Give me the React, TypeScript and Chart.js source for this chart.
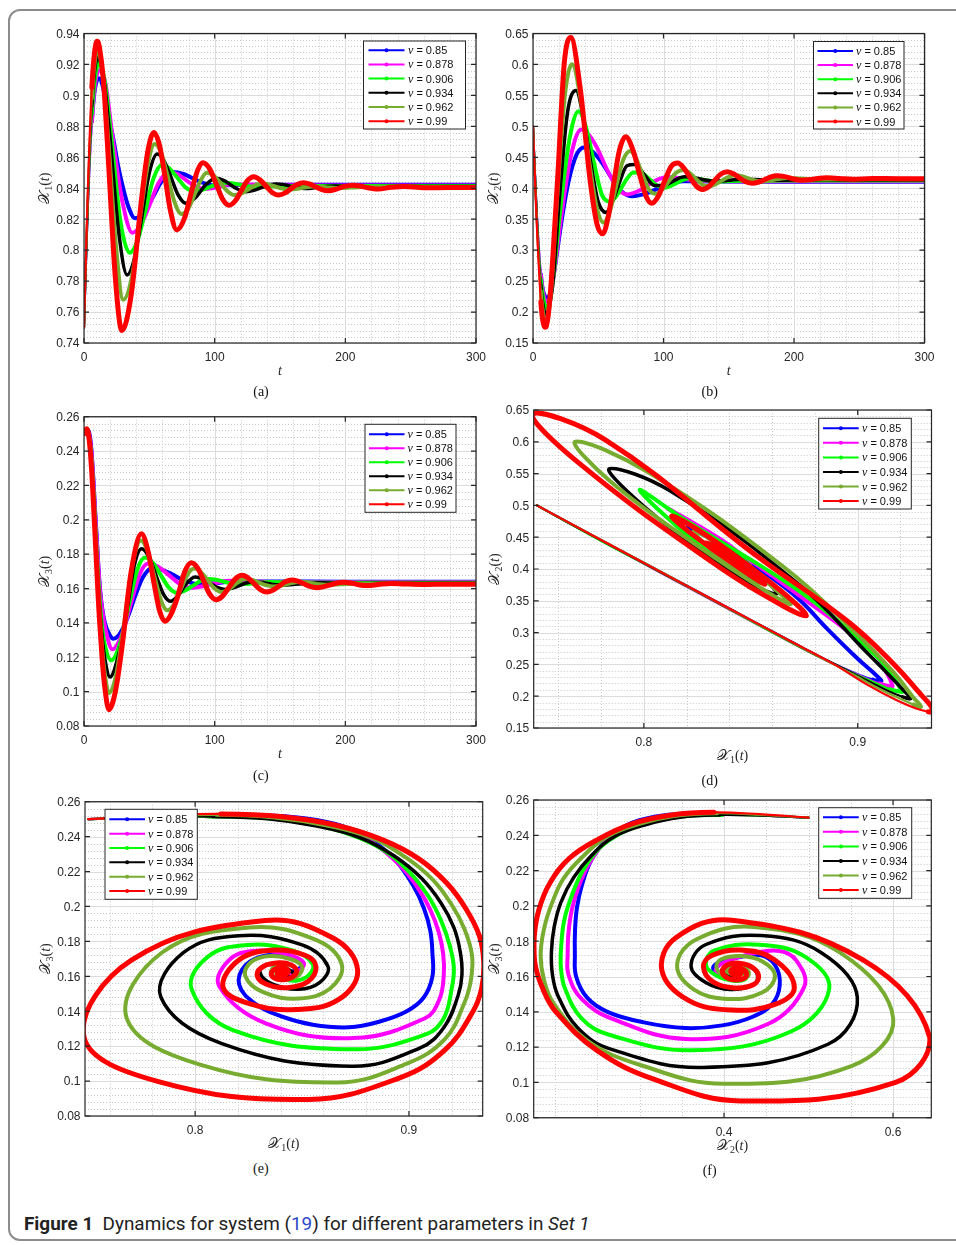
import React, { useEffect, useRef } from 'react';
import { Chart, registerables } from 'chart.js';
Chart.register(...registerables);

// ---------------- series labels / colours ----------------
const NU = ['0.85', '0.878', '0.906', '0.934', '0.962', '0.99'];
const COLORS = ['#0000ff', '#ff00ff', '#00ff00', '#000000', '#77ac30', '#ff0000'];
const WIDTHS = [4, 4, 4, 3.5, 4, 5];

// ---------------- nu = 0.85 (blue) ----------------
const T_B = [0, 1, 2, 3, 4, 5, 6, 7, 8, 9, 10, 11, 12.2, 14, 16, 19, 22.4, 26, 30, 34, 39, 45, 52, 60, 68, 76, 88, 100, 115, 140, 200, 300];
const X1_B = [0.750, 0.778, 0.805, 0.830, 0.851, 0.869, 0.883, 0.894, 0.902, 0.907, 0.910, 0.911, 0.911, 0.907, 0.899, 0.886, 0.872, 0.855, 0.840, 0.828, 0.8206, 0.8236, 0.8332, 0.8451, 0.8505, 0.8492, 0.8445, 0.8418, 0.8421, 0.8422, 0.8422, 0.8422];
const X2_B = [0.500, 0.449, 0.401, 0.356, 0.318, 0.286, 0.261, 0.243, 0.232, 0.226, 0.2237, 0.2235, 0.225, 0.238, 0.262, 0.305, 0.354, 0.398, 0.434, 0.457, 0.466, 0.4605, 0.4439, 0.4174, 0.3949, 0.387, 0.3924, 0.4037, 0.4115, 0.4108, 0.4106, 0.4106];
const X3_B = [0.250, 0.2512, 0.252, 0.2522, 0.2505, 0.246, 0.2375, 0.226, 0.212, 0.199, 0.186, 0.173, 0.160, 0.148, 0.140, 0.134, 0.1308, 0.1323, 0.1372, 0.1444, 0.1553, 0.1664, 0.172, 0.1709, 0.1681, 0.1649, 0.1625, 0.1631, 0.1641, 0.1641, 0.164, 0.164];

// ---------------- nu = 0.878 (magenta) ----------------
const T_M = [0, 1, 2, 3, 4, 5, 6, 7, 8, 9, 10, 11, 12, 14, 16.5, 21.7, 29, 37, 43, 49, 57, 65, 72, 82, 92, 103, 112, 125, 150, 200, 300];
const X1_M = [0.750, 0.779, 0.805, 0.829, 0.850, 0.868, 0.883, 0.895, 0.904, 0.910, 0.914, 0.916, 0.9163, 0.9143, 0.9075, 0.874, 0.833, 0.8113, 0.8156, 0.8267, 0.8432, 0.8507, 0.8489, 0.8429, 0.8395, 0.8408, 0.8424, 0.8424, 0.8419, 0.8418, 0.8418];
const X2_M = [0.500, 0.447, 0.399, 0.356, 0.318, 0.286, 0.260, 0.241, 0.228, 0.220, 0.216, 0.215, 0.216, 0.232, 0.268, 0.355, 0.452, 0.495, 0.4857, 0.4657, 0.4289, 0.3995, 0.390, 0.3967, 0.4102, 0.418, 0.4165, 0.4125, 0.4115, 0.4115, 0.4115];
const X3_M = [0.250, 0.2511, 0.2516, 0.2515, 0.2495, 0.2445, 0.2365, 0.2245, 0.211, 0.198, 0.185, 0.173, 0.161, 0.147, 0.136, 0.1246, 0.1331, 0.1543, 0.169, 0.1745, 0.1725, 0.1678, 0.1634, 0.1605, 0.1615, 0.1637, 0.1645, 0.1641, 0.1637, 0.1637, 0.1637];

// ---------------- nu = 0.906 (green) ----------------
const T_G = [0, 1, 2, 3, 4, 5, 6, 7, 8, 9, 10, 11, 12, 14, 16, 20.7, 28, 35, 41, 46.7, 53, 59.5, 65, 71, 77, 84, 90, 95, 101, 108, 114, 120, 127, 133, 143, 160, 200, 300];
const X1_G = [0.750, 0.779, 0.806, 0.831, 0.853, 0.872, 0.888, 0.900, 0.909, 0.915, 0.919, 0.921, 0.920, 0.9163, 0.9084, 0.874, 0.818, 0.7983, 0.8062, 0.8247, 0.8459, 0.855, 0.853, 0.8473, 0.8412, 0.838, 0.8388, 0.8404, 0.8424, 0.8435, 0.8431, 0.8422, 0.8411, 0.8408, 0.8412, 0.8414, 0.8414, 0.8414];
const X2_G = [0.500, 0.446, 0.398, 0.353, 0.313, 0.279, 0.252, 0.233, 0.220, 0.211, 0.2075, 0.207, 0.212, 0.232, 0.264, 0.362, 0.480, 0.5245, 0.4952, 0.4411, 0.3884, 0.3785, 0.3909, 0.4124, 0.4256, 0.4236, 0.4132, 0.4046, 0.401, 0.4062, 0.4129, 0.416, 0.4148, 0.4128, 0.411, 0.4122, 0.4125, 0.4125];
const X3_G = [0.250, 0.2511, 0.2515, 0.2508, 0.2475, 0.2415, 0.2325, 0.220, 0.206, 0.192, 0.178, 0.165, 0.153, 0.136, 0.127, 0.1182, 0.129, 0.1529, 0.1714, 0.178, 0.1747, 0.1669, 0.1605, 0.1575, 0.1587, 0.162, 0.1647, 0.1655, 0.1651, 0.1638, 0.1628, 0.1625, 0.1628, 0.1633, 0.1638, 0.1635, 0.1634, 0.1634];

// ---------------- nu = 0.934 (black) ----------------
const T_K = [0, 1, 2, 3, 4, 5, 6, 7, 8, 9, 10, 11, 12, 14, 16, 19.9, 26.5, 33, 38.5, 44, 50, 56, 61, 66, 72, 78, 85, 93, 101, 108, 116, 124, 130, 138, 147, 152, 160, 170, 180, 192, 210, 240, 300];
const X1_K = [0.750, 0.780, 0.808, 0.834, 0.857, 0.877, 0.893, 0.906, 0.915, 0.921, 0.924, 0.9248, 0.923, 0.9165, 0.9053, 0.8728, 0.8122, 0.784, 0.7945, 0.8203, 0.850, 0.8621, 0.8582, 0.8484, 0.8357, 0.8303, 0.8337, 0.8421, 0.8464, 0.8446, 0.8401, 0.8378, 0.8386, 0.8411, 0.8428, 0.8425, 0.841, 0.8398, 0.8408, 0.8415, 0.841, 0.8411, 0.8411];
const X2_K = [0.500, 0.445, 0.395, 0.348, 0.307, 0.271, 0.244, 0.222, 0.207, 0.199, 0.1958, 0.197, 0.2036, 0.2267, 0.2651, 0.375, 0.523, 0.5578, 0.5152, 0.4443, 0.378, 0.361, 0.3789, 0.408, 0.4363, 0.4384, 0.4228, 0.4044, 0.4047, 0.4124, 0.4186, 0.4171, 0.4142, 0.4115, 0.412, 0.4133, 0.4147, 0.4142, 0.413, 0.4131, 0.4137, 0.4135, 0.4135];
const X3_K = [0.250, 0.2512, 0.2515, 0.2502, 0.246, 0.2395, 0.229, 0.216, 0.202, 0.188, 0.174, 0.161, 0.149, 0.131, 0.119, 0.1085, 0.1216, 0.148, 0.1735, 0.1832, 0.178, 0.1658, 0.1564, 0.1526, 0.1558, 0.1625, 0.1667, 0.1648, 0.161, 0.1595, 0.1608, 0.1632, 0.164, 0.1634, 0.1622, 0.162, 0.1624, 0.163, 0.1633, 0.1631, 0.163, 0.1631, 0.1631];

// ---------------- nu = 0.962 (olive) ----------------
const T_O = [0, 1, 2, 3, 4, 5, 6, 7, 8, 9, 10, 11, 12, 14, 16, 19, 24.5, 30, 37, 43.6, 49, 54, 59, 63.8, 69, 74.5, 79.5, 84.2, 89, 94, 99.5, 105.3, 110, 115, 120, 124, 130, 135, 140, 145, 150, 156, 160, 165, 170, 176, 185, 196, 210, 230, 260, 300];
const X1_O = [0.750, 0.781, 0.810, 0.837, 0.861, 0.882, 0.898, 0.911, 0.920, 0.926, 0.9295, 0.929, 0.926, 0.9168, 0.899, 0.8666, 0.8023, 0.768, 0.7844, 0.8253, 0.856, 0.8686, 0.863, 0.8487, 0.8318, 0.8234, 0.8264, 0.8351, 0.8446, 0.850, 0.8481, 0.8425, 0.8379, 0.8356, 0.8365, 0.8383, 0.8415, 0.843, 0.8427, 0.8415, 0.8402, 0.8392, 0.8393, 0.8399, 0.8407, 0.8412, 0.8407, 0.8401, 0.8407, 0.8409, 0.8408, 0.8408];
const X2_O = [0.500, 0.444, 0.392, 0.343, 0.300, 0.262, 0.234, 0.210, 0.196, 0.187, 0.183, 0.187, 0.198, 0.2374, 0.300, 0.400, 0.5515, 0.6003, 0.5375, 0.4358, 0.3676, 0.3445, 0.3636, 0.4035, 0.4452, 0.4603, 0.446, 0.4201, 0.3974, 0.391, 0.3992, 0.4146, 0.4256, 0.4295, 0.4247, 0.4169, 0.4057, 0.403, 0.4064, 0.4127, 0.4185, 0.421, 0.4195, 0.416, 0.4125, 0.411, 0.4138, 0.4165, 0.4148, 0.4144, 0.4145, 0.4145];
const X3_O = [0.250, 0.2515, 0.2525, 0.251, 0.2465, 0.2395, 0.2285, 0.2155, 0.201, 0.187, 0.172, 0.158, 0.145, 0.124, 0.110, 0.0992, 0.1094, 0.136, 0.1735, 0.188, 0.1811, 0.1667, 0.1529, 0.1473, 0.1509, 0.1603, 0.1684, 0.1716, 0.1699, 0.1656, 0.1603, 0.158, 0.1591, 0.162, 0.1648, 0.1655, 0.1647, 0.1632, 0.1618, 0.1612, 0.1616, 0.1627, 0.1634, 0.1638, 0.1636, 0.1629, 0.1622, 0.1625, 0.1629, 0.1628, 0.1628, 0.1628];

// ---------------- nu = 0.99 (red) ----------------
const T_R = [0, 1, 2, 3, 4, 5, 6, 7, 8, 9, 10, 11, 12, 14, 16, 19, 24, 29, 36, 44, 49, 53.5, 58, 62, 66, 71, 77, 82, 87, 91, 96, 101, 106, 111, 116, 121, 125, 130, 135, 140, 144, 149, 154, 159, 163, 168, 173, 178, 182, 187, 193, 198.5, 205.5, 211, 217, 225, 235, 245, 260, 280, 300];
const X1_R = [0.750, 0.782, 0.812, 0.840, 0.866, 0.888, 0.905, 0.918, 0.927, 0.933, 0.935, 0.934, 0.930, 0.917, 0.896, 0.853, 0.782, 0.748, 0.7704, 0.8327, 0.8647, 0.876, 0.867, 0.8473, 0.8262, 0.8131, 0.8208, 0.837, 0.8517, 0.8565, 0.8528, 0.8431, 0.8331, 0.829, 0.8321, 0.8394, 0.8449, 0.8475, 0.8452, 0.8407, 0.8373, 0.8356, 0.837, 0.8401, 0.8424, 0.8436, 0.8426, 0.8406, 0.8391, 0.8384, 0.8394, 0.841, 0.842, 0.8415, 0.8403, 0.8395, 0.8406, 0.8412, 0.8403, 0.8405, 0.8405];
const X2_R = [0.500, 0.442, 0.388, 0.338, 0.291, 0.252, 0.217, 0.194, 0.181, 0.1755, 0.176, 0.1856, 0.201, 0.250, 0.316, 0.420, 0.603, 0.6435, 0.5644, 0.409, 0.3426, 0.3265, 0.3575, 0.4094, 0.4594, 0.4832, 0.4592, 0.4196, 0.3855, 0.3757, 0.3869, 0.4126, 0.4357, 0.4407, 0.4313, 0.4153, 0.4039, 0.398, 0.4032, 0.4146, 0.4231, 0.4267, 0.423, 0.4157, 0.4104, 0.408, 0.4101, 0.4145, 0.418, 0.4203, 0.4188, 0.4156, 0.413, 0.4136, 0.4155, 0.417, 0.4158, 0.4145, 0.4158, 0.4155, 0.4155];
const X3_R = [0.250, 0.252, 0.253, 0.2515, 0.2465, 0.238, 0.227, 0.213, 0.198, 0.183, 0.168, 0.153, 0.140, 0.118, 0.102, 0.0895, 0.100, 0.1254, 0.1694, 0.1919, 0.1818, 0.1634, 0.1466, 0.141, 0.1441, 0.1537, 0.1696, 0.175, 0.1719, 0.1655, 0.157, 0.1535, 0.1556, 0.1608, 0.1658, 0.1677, 0.1665, 0.163, 0.1594, 0.158, 0.1588, 0.1613, 0.1639, 0.165, 0.1645, 0.1629, 0.1612, 0.1605, 0.1608, 0.1618, 0.1631, 0.1636, 0.163, 0.1621, 0.1617, 0.1623, 0.163, 0.1627, 0.1624, 0.1625, 0.1625];

// ---------------- tick values ----------------
const T_TICKS = [0, 100, 200, 300];
const X1_TICKS_TIME = [0.74, 0.76, 0.78, 0.8, 0.82, 0.84, 0.86, 0.88, 0.9, 0.92, 0.94];
const X2_TICKS = [0.15, 0.2, 0.25, 0.3, 0.35, 0.4, 0.45, 0.5, 0.55, 0.6, 0.65];
const X3_TICKS = [0.08, 0.1, 0.12, 0.14, 0.16, 0.18, 0.2, 0.22, 0.24, 0.26];
const X1_TICKS_PHASE = [0.8, 0.9];
const X2_TICKS_PHASE = [0.4, 0.6];

type Series = { t: number[]; x1: number[]; x2: number[]; x3: number[] };
const SERIES: Series[] = [
  { t: T_B, x1: X1_B, x2: X2_B, x3: X3_B },
  { t: T_M, x1: X1_M, x2: X2_M, x3: X3_M },
  { t: T_G, x1: X1_G, x2: X2_G, x3: X3_G },
  { t: T_K, x1: X1_K, x2: X2_K, x3: X3_K },
  { t: T_O, x1: X1_O, x2: X2_O, x3: X3_O },
  { t: T_R, x1: X1_R, x2: X2_R, x3: X3_R },
];

const SANS = '"Liberation Sans", Arial, Helvetica, sans-serif';
const SERIF = '"Liberation Serif", "DejaVu Serif", serif';
const AX = '#262626';
const MAJOR = '#dcdcdc';
const MINOR = '#c8c8c8';

type Legend = { x: number; y: number; w: number; h: number; l0: number; l1: number; tx: number; r0: number; rs: number };
type Panel = {
  id: string; L: number; T: number; R: number; B: number;
  xv: keyof Series; yv: keyof Series;
  xr: [number, number]; yr: [number, number];
  xt: number[]; yt: number[]; xm: number; ym: number;
  xTitle: number; yTitle: number;
  legend: Legend; cap: { text: string; x: number; y: number };
  thin: number; phase: boolean;
};

const PANELS: Panel[] = [
  { id: 'a', L: 84, T: 33.5, R: 476, B: 343, xv: 't', yv: 'x1', xr: [0, 300], yr: [0.74, 0.94], xt: T_TICKS, yt: X1_TICKS_TIME, xm: 20, ym: 0.004, xTitle: 0, yTitle: 1,
    legend: { x: 363.5, y: 41, w: 102, h: 88, l0: 368.5, l1: 404.5, tx: 408, r0: 50.2, rs: 14.2 }, cap: { text: '(a)', x: 261, y: 397 }, thin: 6, phase: false },
  { id: 'b', L: 533, T: 33.5, R: 924.5, B: 343, xv: 't', yv: 'x2', xr: [0, 300], yr: [0.15, 0.65], xt: T_TICKS, yt: X2_TICKS, xm: 20, ym: 0.01, xTitle: 0, yTitle: 2,
    legend: { x: 813.5, y: 41.5, w: 90.5, h: 87.5, l0: 817.5, l1: 853, tx: 856, r0: 51, rs: 14.1 }, cap: { text: '(b)', x: 709.7, y: 397 }, thin: 6, phase: false },
  { id: 'c', L: 84, T: 416.7, R: 476, B: 726, xv: 't', yv: 'x3', xr: [0, 300], yr: [0.08, 0.26], xt: T_TICKS, yt: X3_TICKS, xm: 20, ym: 0.004, xTitle: 0, yTitle: 3,
    legend: { x: 365, y: 424.3, w: 91, h: 88, l0: 369, l1: 404.5, tx: 407.5, r0: 434.3, rs: 14 }, cap: { text: '(c)', x: 260.8, y: 781 }, thin: 0, phase: false },
  { id: 'd', L: 533.7, T: 410, R: 931.5, B: 728, xv: 'x1', yv: 'x2', xr: [0.7485, 0.9345], yr: [0.15, 0.65], xt: X1_TICKS_PHASE, yt: X2_TICKS, xm: 0.02, ym: 0.01, xTitle: 1, yTitle: 2,
    legend: { x: 818.7, y: 418.3, w: 92.6, h: 90.7, l0: 823, l1: 858.7, tx: 862, r0: 428.3, rs: 14.55 }, cap: { text: '(d)', x: 709.7, y: 786 }, thin: 9, phase: true },
  { id: 'e', L: 85, T: 801.7, R: 482.7, B: 1116, xv: 'x1', yv: 'x3', xr: [0.7485, 0.9345], yr: [0.08, 0.26], xt: X1_TICKS_PHASE, yt: X3_TICKS, xm: 0.02, ym: 0.004, xTitle: 1, yTitle: 3,
    legend: { x: 105, y: 809.3, w: 92.3, h: 90, l0: 109.3, l1: 145, tx: 148, r0: 819.3, rs: 14.35 }, cap: { text: '(e)', x: 260.8, y: 1174 }, thin: 2, phase: true },
  { id: 'f', L: 533.7, T: 800, R: 931.3, B: 1117.7, xv: 'x2', yv: 'x3', xr: [0.1748, 0.6453], yr: [0.08, 0.26], xt: X2_TICKS_PHASE, yt: X3_TICKS, xm: 0.05, ym: 0.004, xTitle: 2, yTitle: 3,
    legend: { x: 818.7, y: 807.7, w: 93, h: 90.6, l0: 823, l1: 858.7, tx: 862, r0: 817.3, rs: 14.55 }, cap: { text: '(f)', x: 709.7, y: 1176 }, thin: 1.5, phase: true },
];

type Run = { text: string; font: string; dy?: number };
function fmt(v: number) { return String(+v.toFixed(3)); }
function runsWidth(ctx: CanvasRenderingContext2D, runs: Run[]) {
  let w = 0;
  for (const r of runs) { ctx.font = r.font; w += ctx.measureText(r.text).width; }
  return w;
}
function drawRuns(ctx: CanvasRenderingContext2D, runs: Run[], x: number, y: number) {
  let cx = x;
  for (const r of runs) { ctx.font = r.font; ctx.fillText(r.text, cx, y + (r.dy || 0)); cx += ctx.measureText(r.text).width; }
}
function titleRuns(n: number): Run[] {
  if (n === 0) return [{ text: 't', font: `italic 14px ${SERIF}` }];
  return [
    { text: '\u{1D4B3}', font: `15px "DejaVu Serif", "DejaVu Sans", serif` },
    { text: String(n), font: `10px ${SERIF}`, dy: 3 },
    { text: '(', font: `14px ${SERIF}` },
    { text: 't', font: `italic 14px ${SERIF}` },
    { text: ')', font: `14px ${SERIF}` },
  ];
}
function minorVals(r: [number, number], step: number, majors: number[]) {
  const out: number[] = [];
  let k = Math.ceil(r[0] / step - 1e-9);
  for (;;) {
    const v = k * step;
    if (v > r[1] + 1e-9) break;
    if (!majors.some((m) => Math.abs(m - v) < step * 0.05)) out.push(v);
    k++;
  }
  return out;
}

function makePlugin(p: Panel, cl: number, ct: number) {
  return {
    id: 'matlab_' + p.id,
    beforeDatasetsDraw(chart: any) {
      const { ctx, chartArea: a } = chart;
      const xs = chart.scales.x, ys = chart.scales.y;
      ctx.save();
      ctx.fillStyle = '#fff';
      ctx.fillRect(a.left, a.top, a.right - a.left, a.bottom - a.top);
      ctx.lineWidth = 1;
      ctx.strokeStyle = MINOR;
      ctx.setLineDash([1, 2]);
      ctx.beginPath();
      for (const v of minorVals(p.xr, p.xm, p.xt)) { const px = Math.round(xs.getPixelForValue(v)) + 0.5; ctx.moveTo(px, a.top); ctx.lineTo(px, a.bottom); }
      for (const v of minorVals(p.yr, p.ym, p.yt)) { const py = Math.round(ys.getPixelForValue(v)) + 0.5; ctx.moveTo(a.left, py); ctx.lineTo(a.right, py); }
      ctx.stroke();
      ctx.setLineDash([]);
      ctx.strokeStyle = MAJOR;
      ctx.beginPath();
      for (const v of p.xt) { const px = Math.round(xs.getPixelForValue(v)) + 0.5; ctx.moveTo(px, a.top); ctx.lineTo(px, a.bottom); }
      for (const v of p.yt) { const py = Math.round(ys.getPixelForValue(v)) + 0.5; ctx.moveTo(a.left, py); ctx.lineTo(a.right, py); }
      ctx.stroke();
      ctx.restore();
    },
    afterDatasetsDraw(chart: any) {
      const { ctx, chartArea: a } = chart;
      const xs = chart.scales.x, ys = chart.scales.y;
      ctx.save();
      ctx.strokeStyle = AX;
      ctx.lineWidth = 1.2;
      ctx.strokeRect(a.left, a.top, a.right - a.left, a.bottom - a.top);
      ctx.beginPath();
      for (const v of p.xt) {
        const px = xs.getPixelForValue(v);
        ctx.moveTo(px, a.bottom); ctx.lineTo(px, a.bottom - 5);
        ctx.moveTo(px, a.top); ctx.lineTo(px, a.top + 5);
      }
      for (const v of p.yt) {
        const py = ys.getPixelForValue(v);
        ctx.moveTo(a.left, py); ctx.lineTo(a.left + 5, py);
        ctx.moveTo(a.right, py); ctx.lineTo(a.right - 5, py);
      }
      ctx.stroke();
      ctx.fillStyle = AX;
      ctx.font = `12px ${SANS}`;
      ctx.textBaseline = 'alphabetic';
      ctx.textAlign = 'center';
      for (const v of p.xt) ctx.fillText(fmt(v), xs.getPixelForValue(v), a.bottom + 18);
      ctx.textAlign = 'right';
      for (const v of p.yt) ctx.fillText(fmt(v), a.left - 4.5, ys.getPixelForValue(v) + 4.3);
      ctx.textAlign = 'left';
      const xr = titleRuns(p.xTitle);
      drawRuns(ctx, xr, (a.left + a.right) / 2 - runsWidth(ctx, xr) / 2, a.bottom + 32);
      const yr = titleRuns(p.yTitle);
      ctx.save();
      ctx.translate(a.left - 35, (a.top + a.bottom) / 2);
      ctx.rotate(-Math.PI / 2);
      drawRuns(ctx, yr, -runsWidth(ctx, yr) / 2, 0);
      ctx.restore();
      const lg = p.legend;
      ctx.translate(-cl, -ct);
      ctx.fillStyle = '#fff';
      ctx.fillRect(lg.x, lg.y, lg.w, lg.h);
      ctx.strokeStyle = AX;
      ctx.lineWidth = 1;
      ctx.strokeRect(lg.x, lg.y, lg.w, lg.h);
      for (let i = 0; i < NU.length; i++) {
        const y = lg.r0 + i * lg.rs;
        ctx.strokeStyle = COLORS[i];
        ctx.lineWidth = 2;
        ctx.beginPath(); ctx.moveTo(lg.l0, y); ctx.lineTo(lg.l1, y); ctx.stroke();
        ctx.fillStyle = COLORS[i];
        ctx.beginPath(); ctx.arc((lg.l0 + lg.l1) / 2, y, 2, 0, Math.PI * 2); ctx.fill();
        ctx.fillStyle = '#111';
        drawRuns(ctx, [{ text: '\u03BD', font: `italic 12px ${SERIF}` }, { text: ' = ' + NU[i], font: `11px ${SANS}` }], lg.tx, y + 4);
      }
      ctx.restore();
    },
  };
}

function PanelChart({ p }: { p: Panel }) {
  const ref = useRef<HTMLCanvasElement | null>(null);
  const cl = Math.floor(p.L) - 64;
  const ct = Math.floor(p.T) - 14;
  const cw = Math.ceil(p.R) + 16 - cl;
  const ch = Math.ceil(p.B) + 44 - ct;
  useEffect(() => {
    if (!ref.current) return;
    const datasets = SERIES.map((s, i) => {
      const xsArr = s[p.xv];
      const ysArr = s[p.yv];
      const w = WIDTHS[i];
      return {
        label: '\u03BD = ' + NU[i],
        data: xsArr.map((xv, k) => ({ x: xv, y: ysArr[k] })),
        borderColor: COLORS[i],
        backgroundColor: COLORS[i],
        borderWidth: w,
        pointRadius: 0,
        pointHoverRadius: 0,
        fill: false,
        tension: p.phase ? 0.4 : 0,
        cubicInterpolationMode: p.phase ? 'default' : 'monotone',
        borderJoinStyle: 'round',
        borderCapStyle: 'round',
        order: SERIES.length - i,
        segment: { borderWidth: (c: any) => (s.t[c.p0DataIndex] < p.thin ? 2.2 : w) },
      };
    });
    const chart = new Chart(ref.current, {
      type: 'line',
      data: { datasets } as any,
      options: {
        responsive: false,
        animation: false,
        devicePixelRatio: 1,
        events: [],
        layout: { padding: { left: p.L - cl, top: p.T - ct, right: cl + cw - p.R, bottom: ct + ch - p.B } },
        scales: {
          x: { type: 'linear', display: false, min: p.xr[0], max: p.xr[1] },
          y: { type: 'linear', display: false, min: p.yr[0], max: p.yr[1] },
        },
        plugins: { legend: { display: false }, tooltip: { enabled: false } },
      } as any,
      plugins: [makePlugin(p, cl, ct) as any],
    });
    return () => chart.destroy();
  }, []);
  return <canvas ref={ref} width={cw} height={ch} style={{ position: 'absolute', left: cl, top: ct, width: cw, height: ch }} />;
}

export default function App() {
  return (
    <div style={{ position: 'absolute', left: 0, top: 0, width: 956, height: 1245, overflow: 'hidden', background: '#fff' }}>
      <div style={{ position: 'absolute', left: 8, top: 9, width: 990, height: 1232, border: '2px solid #8c8c8c', borderRadius: 12, boxSizing: 'border-box' }} />
      {PANELS.map((p) => <PanelChart key={p.id} p={p} />)}
      {PANELS.map((p) => (
        <div key={'cap' + p.id} style={{ position: 'absolute', left: p.cap.x - 30, width: 60, top: p.cap.y - 11.7, textAlign: 'center', font: `14px ${SERIF}`, lineHeight: '14px', color: '#111' }}>{p.cap.text}</div>
      ))}
      <div style={{ position: 'absolute', left: 24, top: 1214, font: '18.9px Roboto, "Noto Sans", sans-serif', lineHeight: '19px', color: '#222', whiteSpace: 'nowrap' }}>
        <b>Figure 1</b>{'\u00A0\u00A0'}Dynamics for system (<span style={{ color: '#2b48c8' }}>19</span>) for different parameters in <i>Set 1</i>
      </div>
    </div>
  );
}
